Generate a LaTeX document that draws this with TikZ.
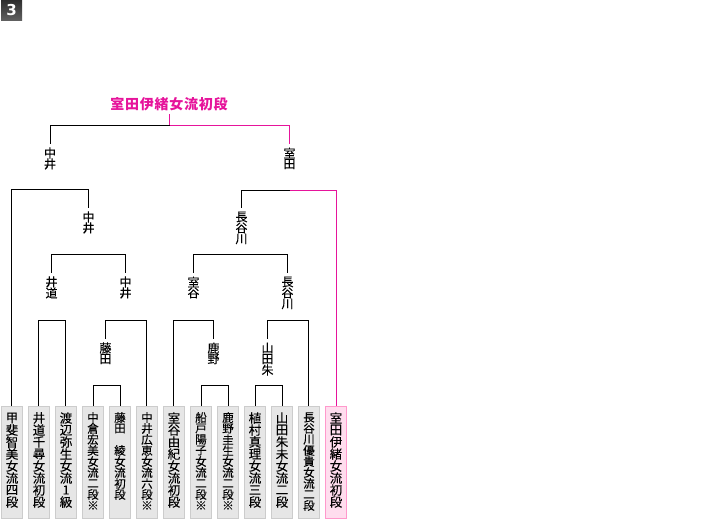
\documentclass[tikz,border=0pt]{standalone}
\usepackage{fontspec}
\setmainfont[FakeBold=0.08]{Noto Sans CJK JP}
\newfontfamily\badgefont{DejaVu Sans}
\newfontfamily\titlefont[LetterSpace=5.5]{Noto Sans CJK JP}
\definecolor{winpink}{HTML}{E6149B}
\definecolor{boxfill}{HTML}{E6E6E6}
\definecolor{boxedge}{HTML}{CCCCCC}
\definecolor{winfill}{HTML}{FFDDEE}
\definecolor{winedge}{HTML}{FF99CC}
% vertical stack of characters: #1 = pitch in pt, #2 = glyph size, #3 = the characters
\makeatletter
\newcommand\tate[3]{\vbox{\offinterlineskip
  \fontsize{#2}{#1pt}\selectfont
  \@tfor\ch:=#3\do{\hbox to 13pt{\hss\vbox to #1pt{\vss\hbox{\ch}\vss}\hss}}}}
\makeatother
\newcommand\inbox[2]{\vbox to 111pt{\vskip 5pt\tate{#1}{\the\dimexpr#1pt+0.5pt\relax}{#2}\vss}}
\newcommand\inlabel[1]{\vbox{\vskip 4pt\tate{11}{12}{#1}}}
\tikzset{
  x=1pt,y=-1pt,
  wire/.style={draw=black,line width=1pt},
  pinkwire/.style={draw=winpink,line width=1pt},
  namebox/.style={draw=boxedge,fill=boxfill,line width=1pt,minimum width=21pt,minimum height=112pt,inner sep=0pt},
  winbox/.style={namebox,draw=winedge,fill=winfill},
  roundname/.style={inner sep=0pt,outer sep=0pt,anchor=north}
}
\begin{document}
\begin{tikzpicture}
\useasboundingbox (0,0) rectangle (724,520);
% round number badge
\shade[top color=black!82,bottom color=black!62] (1,0) rectangle (22,20.5);
\node[inner sep=0pt,text=white] (badge) at (11.5,10.5) {\badgefont\bfseries\fontsize{15}{15}\selectfont 3};
% title
\node[inner sep=0pt,outer sep=0pt,text=winpink] (champ) at (169,104) {\titlefont\bfseries\fontsize{14}{14}\selectfont 室田伊緒女流初段};
\coordinate (champfoot) at (169.5,114);
% player boxes
\node[namebox] (b1)  at (12,462.5)  {\inbox{12}{甲斐智美女流四段}};
\node[namebox] (b2)  at (39,462.5)  {\inbox{12}{井道千尋女流初段}};
\node[namebox] (b3)  at (66,462.5)  {\inbox{12}{渡辺弥生女流1級}};
\node[namebox] (b4)  at (93,462.5)  {\inbox{11}{中倉宏美女流二段※}};
\node[namebox] (b5)  at (120,462.5) {\inbox{11}{藤田{~}綾女流初段}};
\node[namebox] (b6)  at (147,462.5) {\inbox{11}{中井広恵女流六段※}};
\node[namebox] (b7)  at (174,462.5) {\inbox{12}{室谷由紀女流初段}};
\node[namebox] (b8)  at (201,462.5) {\inbox{11}{船戸陽子女流二段※}};
\node[namebox] (b9)  at (228,462.5) {\inbox{11}{鹿野圭生女流二段※}};
\node[namebox] (b10) at (255,462.5) {\inbox{12}{植村真理女流三段}};
\node[namebox] (b11) at (282,462.5) {\inbox{12}{山田朱未女流二段}};
\node[namebox] (b12) at (309,462.5) {\inbox{11}{長谷川優貴女流二段}};
\node[winbox]  (b13) at (336,462.5) {\inbox{12}{室田伊緒女流初段}};
% winners' names along the bracket
\node[roundname] (s1) at (50,143.5)    {\inlabel{中井}};
\node[roundname] (s2) at (289.5,143.5) {\inlabel{室田}};
\node[roundname] (q1) at (88.5,207.5)  {\inlabel{中井}};
\node[roundname] (q2) at (241.5,207.5) {\inlabel{長谷川}};
\node[roundname] (r1) at (51.5,272.5)  {\inlabel{井道}};
\node[roundname] (r2) at (125.5,272.5) {\inlabel{中井}};
\node[roundname] (r3) at (193.5,272.5) {\inlabel{室谷}};
\node[roundname] (r4) at (287.5,272.5) {\inlabel{長谷川}};
\node[roundname] (p1) at (105.5,338.5) {\inlabel{藤田}};
\node[roundname] (p2) at (213.5,338.5) {\inlabel{鹿野}};
\node[roundname] (p3) at (267.5,338.5) {\inlabel{山田朱}};
% junctions of the bracket
\coordinate (j1) at (169.5,125.5);
\coordinate (j2) at (289.5,190.5);
\coordinate (j3) at (11.5,189.5);
% final and semifinals
\draw[pinkwire] (champfoot) -- (j1);
\draw[wire] (s1.north) |- (j1);
\draw[pinkwire] (j1) -| (s2.north);
\draw[wire] ([xshift=-.5pt]b1.north) -- (j3) -| (q1.north);
\draw[wire] (q2.north) |- (j2);
\draw[pinkwire] (j2) -| ([xshift=.5pt]b13.north);
% quarterfinals
\coordinate (k1) at (51.5,254.5);
\coordinate (k2) at (193.5,254.5);
\draw[wire] (r1.north) -- (k1) -| (r2.north);
\draw[wire] (r3.north) -- (k2) -| (r4.north);
% early rounds
\coordinate (m1) at (38.5,320.5);
\coordinate (m2) at (105.5,320.5);
\coordinate (m3) at (173.5,320.5);
\coordinate (m4) at (267.5,320.5);
\draw[wire] ([xshift=-.5pt]b2.north) -- (m1) -| ([xshift=-.5pt]b3.north);
\draw[wire] (p1.north) -- (m2) -| ([xshift=-.5pt]b6.north);
\draw[wire] ([xshift=-.5pt]b7.north) -- (m3) -| (p2.north);
\draw[wire] (p3.north) -- (m4) -| ([xshift=-.5pt]b12.north);
\coordinate (n1) at (93.5,385.5);
\coordinate (n2) at (201.5,385.5);
\coordinate (n3) at (255.5,385.5);
\draw[wire] ([xshift=.5pt]b4.north) -- (n1) -| ([xshift=.5pt]b5.north);
\draw[wire] ([xshift=.5pt]b8.north) -- (n2) -| ([xshift=.5pt]b9.north);
\draw[wire] ([xshift=.5pt]b10.north) -- (n3) -| ([xshift=.5pt]b11.north);
\end{tikzpicture}
\end{document}
